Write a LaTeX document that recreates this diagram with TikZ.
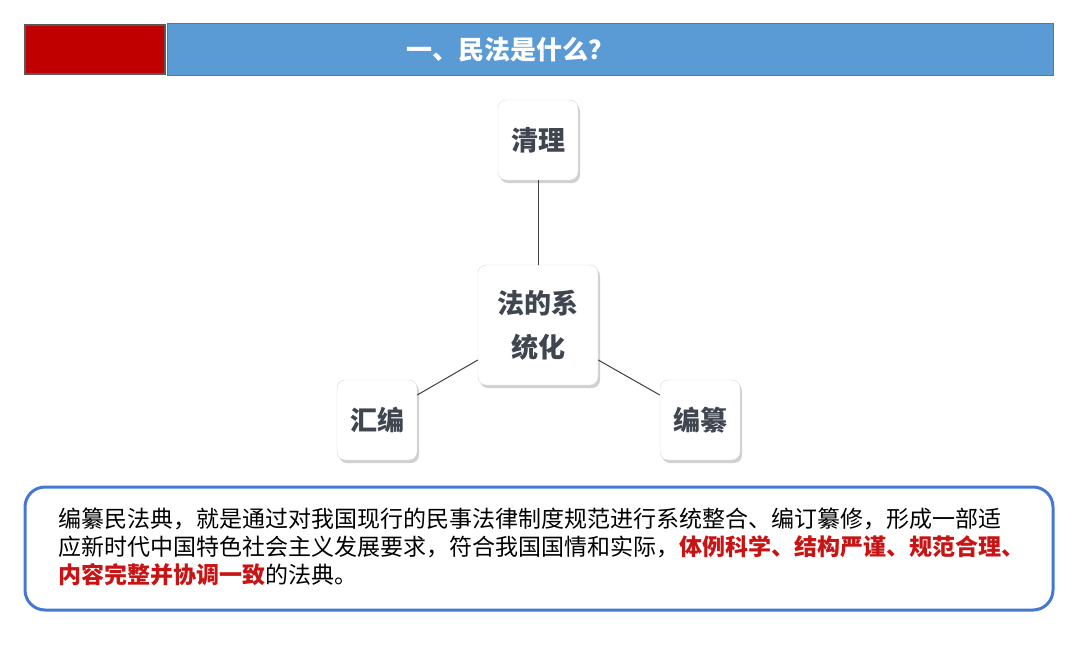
\documentclass[tikz,border=0pt]{standalone}
\usepackage{fontspec}
\newfontfamily\cjk{Noto Sans CJK SC}
\usetikzlibrary{shadows}
\definecolor{barblue}{RGB}{91,155,213}
\definecolor{barred}{RGB}{192,0,0}
\definecolor{txtred}{RGB}{200,20,20}
\definecolor{nodetxt}{RGB}{64,70,80}
\definecolor{frameblue}{RGB}{70,120,210}
\tikzset{
  box/.style={draw=gray!30, rounded corners=8pt, fill=white, minimum width=80pt, minimum height=80pt,
    drop shadow={shadow xshift=2pt,shadow yshift=-3pt,fill=gray!60,opacity=0.6},
    font=\cjk\bfseries\fontsize{27}{44}\selectfont, text=nodetxt, align=center, inner sep=0pt},
  conn/.style={draw=black!75, line width=1pt}
}
\begin{document}
\begin{tikzpicture}[x=1pt,y=-1pt]
\useasboundingbox (0,0) rectangle (1080,648);
\fill[white] (0,0) rectangle (1080,648);
\draw[fill=barred, draw=gray!70!black, line width=1.5pt] (25,25) rectangle (165,74);
\draw[fill=barblue, draw=barblue!80!black, line width=1pt] (167,23) rectangle (1053,75);
\node[font=\cjk\bfseries\fontsize{26}{30}\selectfont, text=white] (title) at (510,50) {一、民法是什么？};
\node[box] (ql) at (538,140) {清理};
\node[box, minimum width=120pt, minimum height=120pt] (c) at (538,325) {法的系\\统化};
\node[box] (hb) at (377,420) {汇编};
\node[box] (bz) at (700,420) {编纂};
\draw[conn] (c.north) -- (ql.south);
\draw[conn] (c.west |- 0,360) -- (hb.east |- 0,395);
\draw[conn] (c.east |- 0,360) -- (bz.west |- 0,395);
\draw[draw=frameblue, line width=3pt, rounded corners=20pt, fill=white] (25,487) rectangle (1053,610);
\node[anchor=north west, font=\cjk\fontsize{23}{28}\selectfont, align=left, inner sep=0pt] (t) at (58,508)
{编纂民法典，就是通过对我国现行的民事法律制度规范进行系统整合、编订纂修，形成一部适\\
应新时代中国特色社会主义发展要求，符合我国国情和实际，{\bfseries\color{txtred}体例科学、结构严谨、规范合理、}\\
{\bfseries\color{txtred}内容完整并协调一致}的法典。};
\end{tikzpicture}
\end{document}
